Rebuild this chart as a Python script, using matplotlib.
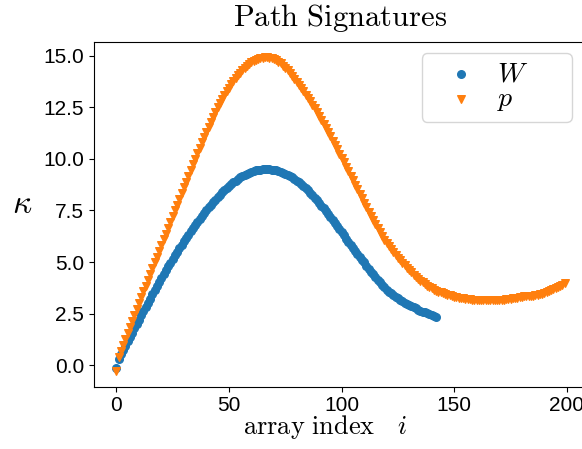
import numpy as np
import matplotlib
matplotlib.use('Agg')
import matplotlib.pyplot as plt

plt.rcParams['mathtext.fontset'] = 'cm'
plt.rcParams['font.family'] = ['Liberation Sans', 'DejaVu Sans']

# kappa along the path for W (circles) and p (triangles), one value per array index
kappa_W = [-0.12, 0.30, 0.52, 0.73, 0.94, 1.15, 1.36, 1.57, 1.78, 1.99,
           2.20, 2.41, 2.62, 2.83, 3.03, 3.23, 3.43, 3.63, 3.83, 4.03,
           4.23, 4.42, 4.61, 4.79, 4.97, 5.15, 5.33, 5.50, 5.67, 5.84,
           6.01, 6.17, 6.33, 6.49, 6.65, 6.80, 6.95, 7.10, 7.24, 7.38,
           7.52, 7.65, 7.78, 7.91, 8.03, 8.15, 8.27, 8.38, 8.49, 8.59,
           8.69, 8.78, 8.87, 8.95, 9.03, 9.10, 9.17, 9.23, 9.28, 9.33,
           9.37, 9.41, 9.44, 9.46, 9.48, 9.49, 9.50, 9.50, 9.49, 9.48,
           9.46, 9.44, 9.41, 9.37, 9.33, 9.28, 9.23, 9.17, 9.10, 9.03,
           8.95, 8.87, 8.78, 8.68, 8.58, 8.47, 8.36, 8.24, 8.12, 8.00,
           7.87, 7.74, 7.60, 7.46, 7.32, 7.18, 7.04, 6.89, 6.74, 6.59,
           6.44, 6.29, 6.14, 5.99, 5.84, 5.69, 5.55, 5.40, 5.26, 5.12,
           4.98, 4.80, 4.66, 4.53, 4.40, 4.27, 4.14, 4.02, 3.90, 3.78,
           3.67, 3.57, 3.48, 3.40, 3.32, 3.25, 3.18, 3.11, 3.04, 2.98,
           2.92, 2.86, 2.80, 2.75, 2.70, 2.65, 2.60, 2.56, 2.52, 2.46,
           2.42, 2.38, 2.34]

kappa_p = [-0.28, 0.40, 0.70, 1.00, 1.29, 1.58, 1.87, 2.16, 2.45, 2.74,
           3.02, 3.30, 3.58, 3.86, 4.14, 4.42, 4.70, 4.98, 5.26, 5.54,
           5.82, 6.10, 6.38, 6.66, 6.94, 7.22, 7.50, 7.78, 8.06, 8.34,
           8.62, 8.90, 9.18, 9.46, 9.73, 10.00, 10.27, 10.54, 10.81, 11.07,
           11.32, 11.57, 11.81, 12.05, 12.28, 12.50, 12.71, 12.91, 13.10, 13.28,
           13.45, 13.61, 13.76, 13.90, 14.05, 14.18, 14.30, 14.41, 14.51, 14.60,
           14.68, 14.74, 14.79, 14.84, 14.88, 14.90, 14.92, 14.92, 14.91, 14.89,
           14.85, 14.80, 14.72, 14.63, 14.52, 14.41, 14.29, 14.16, 14.02, 13.88,
           13.73, 13.58, 13.43, 13.28, 13.12, 12.96, 12.80, 12.63, 12.46, 12.28,
           12.09, 11.90, 11.70, 11.50, 11.30, 11.09, 10.88, 10.67, 10.46, 10.25,
           10.04, 9.83, 9.62, 9.41, 9.19, 8.97, 8.75, 8.53, 8.31, 8.09,
           7.87, 7.65, 7.44, 7.23, 7.03, 6.83, 6.64, 6.45, 6.27, 6.09,
           5.92, 5.76, 5.61, 5.47, 5.34, 5.21, 5.09, 4.97, 4.85, 4.73,
           4.61, 4.50, 4.39, 4.29, 4.19, 4.10, 4.01, 3.93, 3.86, 3.79,
           3.73, 3.67, 3.62, 3.57, 3.53, 3.49, 3.45, 3.42, 3.39, 3.36,
           3.33, 3.31, 3.28, 3.26, 3.24, 3.22, 3.20, 3.19, 3.18, 3.17,
           3.16, 3.15, 3.15, 3.14, 3.14, 3.14, 3.14, 3.14, 3.15, 3.15,
           3.16, 3.17, 3.18, 3.19, 3.20, 3.22, 3.24, 3.26, 3.28, 3.31,
           3.33, 3.34, 3.35, 3.35, 3.36, 3.37, 3.39, 3.41, 3.43, 3.46,
           3.50, 3.54, 3.58, 3.63, 3.68, 3.73, 3.78, 3.84, 3.90, 3.97]

idx_W = np.arange(len(kappa_W))
idx_p = np.arange(len(kappa_p))

fig = plt.figure(figsize=(5.82, 4.49), dpi=100)
ax = fig.add_axes([0.1613, 0.1388, 0.8473, 0.7683])

ax.scatter(idx_W, kappa_W, marker='o', color='tab:blue', s=30, label=r'$W$')
ax.scatter(idx_p, kappa_p, marker='v', color='tab:orange', s=30, label=r'$p$')

ax.set_title(r'$\mathrm{Path\ Signatures}$', fontsize=22, pad=11)
ax.set_xlabel(r'$\mathrm{array\ index}\quad i$', fontsize=19)
ax.xaxis.set_label_coords(0.468, -0.075)
ax.set_ylabel(r'$\kappa$', fontsize=24, rotation=0)
ax.yaxis.set_label_coords(-0.145, 0.483)
ax.tick_params(labelsize=15)

# legend box spans a fixed width, like the original
ax.legend(loc='upper left', bbox_to_anchor=(0.7246, 0.6813, 0.2582, 0.2),
          bbox_transform=fig.transFigure, borderaxespad=0, mode='expand',
          fontsize=20, labelspacing=-0.05, borderpad=0.3,
          handlelength=2.25, handletextpad=0.15)

fig.savefig('out.png', dpi=100)
